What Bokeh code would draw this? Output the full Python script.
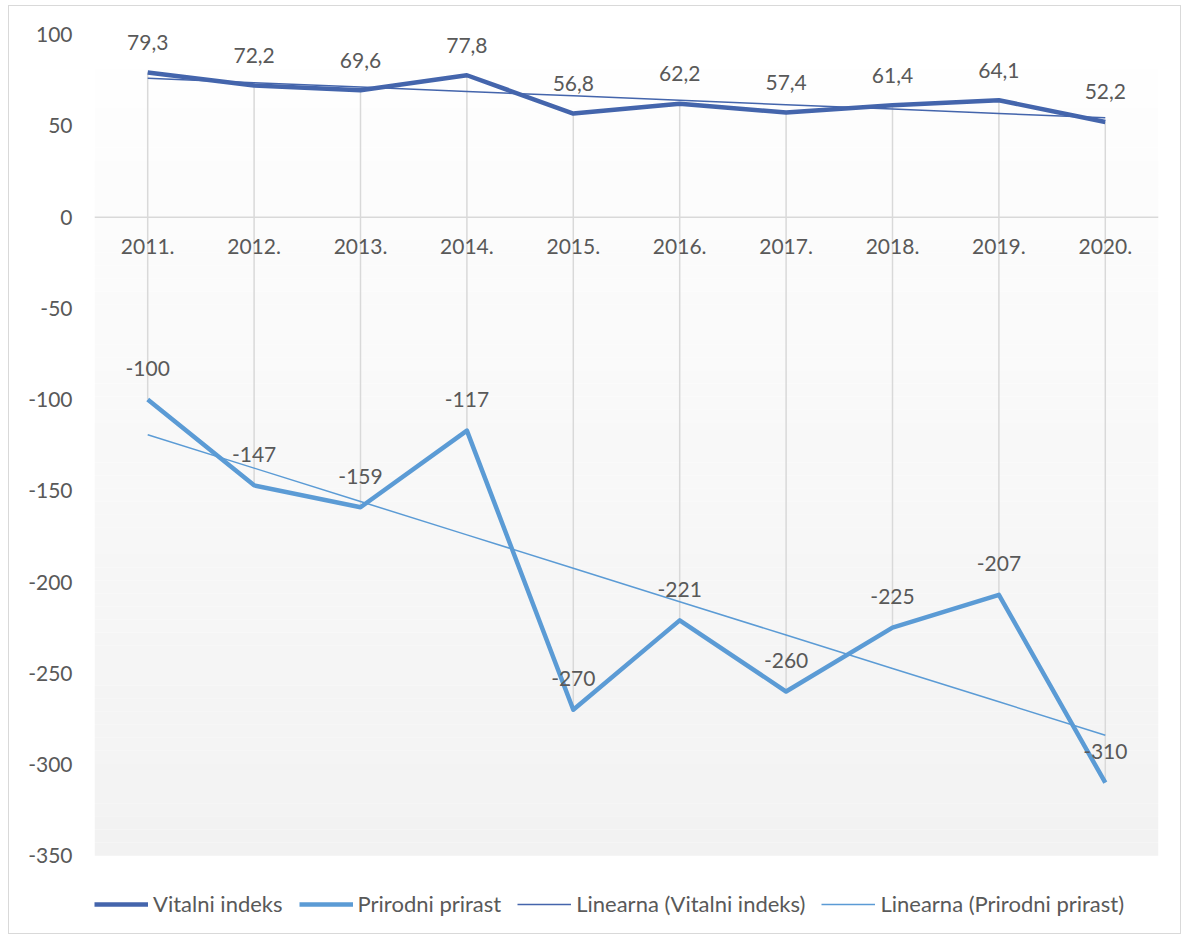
import numpy as np
from bokeh.plotting import figure
from bokeh.models import (ColumnDataSource, Legend, LegendItem, Range1d, FactorRange,
                          BoxAnnotation, Span, FixedTicker)
from bokeh.core.properties import value
from bokeh.embed import file_html
from bokeh.resources import INLINE

years = ["2011.", "2012.", "2013.", "2014.", "2015.", "2016.", "2017.", "2018.", "2019.", "2020."]
vitalni = [79.3, 72.2, 69.6, 77.8, 56.8, 62.2, 57.4, 61.4, 64.1, 52.2]
prirast = [-100, -147, -159, -117, -270, -221, -260, -225, -207, -310]
vitalni_labels = ["79,3", "72,2", "69,6", "77,8", "56,8", "62,2", "57,4", "61,4", "64,1", "52,2"]
prirast_labels = ["-100", "-147", "-159", "-117", "-270", "-221", "-260", "-225", "-207", "-310"]
y_ticks = [100, 50, 0, -50, -100, -150, -200, -250, -300, -350]
y_tick_labels = ["100", "50", "0", "-50", "-100", "-150", "-200", "-250", "-300", "-350"]

# linear trend lines (Excel "Linearna" trendline = least squares fit)
idx = np.arange(1, len(years) + 1)
cv = np.polyfit(idx, vitalni, 1)
cp = np.polyfit(idx, prirast, 1)
trend_v = list(np.polyval(cv, idx))
trend_p = list(np.polyval(cp, idx))

FONT = "Lato"
TXT = "#595959"
DARK = "#4465AC"
LIGHT = "#5B9BD5"

src = ColumnDataSource(dict(x=years, v=vitalni, p=prirast, tv=trend_v, tp=trend_p,
                            vl=vitalni_labels, pl=prirast_labels, zero=[0] * len(years)))

Y_MIN_AXIS = -350
p = figure(frame_width=1064, frame_height=914, x_range=FactorRange(*years), y_range=Range1d(-391, 110),
           output_backend="svg", toolbar_location=None, x_axis_location=None,
           min_border_left=85, min_border_right=22, min_border_top=10, min_border_bottom=3)
p.outline_line_color = None
p.xgrid.grid_line_color = None
p.ygrid.grid_line_color = None
p.background_fill_color = "white"
p.border_fill_color = "white"
p.styles = {"border": "1px solid #d9d9d9", "margin-left": "8px", "margin-top": "5px"}

# gradient plot-area background (decoration)
top_v = 81.4
n = 60
edges = np.linspace(top_v, Y_MIN_AXIS, n + 1)
for i in range(n):
    t = (i + 0.5) / n
    c = int(round(254 - t * (254 - 242)))
    p.add_layout(BoxAnnotation(top=edges[i], bottom=edges[i + 1],
                               fill_color="#%02x%02x%02x" % (c, c, c), fill_alpha=1.0,
                               line_color=None, level="underlay"))

# y axis
ax = p.yaxis[0]
ax.ticker = FixedTicker(ticks=y_ticks)
ax.major_label_overrides = dict(zip(y_ticks, y_tick_labels))
ax.axis_line_color = None
ax.major_tick_line_color = None
ax.minor_tick_line_color = None
ax.major_label_text_font = FONT
ax.major_label_text_font_size = "21px"
ax.major_label_text_color = TXT
ax.major_label_standoff = 16

# horizontal category axis line at zero
p.add_layout(Span(location=0, dimension="width", line_color="#d9d9d9", line_width=1.5))

# high-low lines
p.segment(x0="x", y0="v", x1="x", y1="p", source=src, line_color="#d9d9d9", line_width=1.5)

# category labels
p.text(x="x", y="zero", text="x", source=src, text_font=value(FONT), text_font_size="21px",
       text_color=TXT, text_align="center", text_baseline="middle", y_offset=29)

r1 = p.line("x", "v", source=src, line_color=DARK, line_width=4.5, line_join="round")
r2 = p.line("x", "p", source=src, line_color=LIGHT, line_width=4.5, line_join="round")
r3 = p.line("x", "tv", source=src, line_color=DARK, line_width=1.5)
r4 = p.line("x", "tp", source=src, line_color=LIGHT, line_width=1.5)

p.text(x="x", y="v", text="vl", source=src, text_font=value(FONT), text_font_size="21px",
       text_color=TXT, text_align="center", text_baseline="middle", y_offset=-30)
p.text(x="x", y="p", text="pl", source=src, text_font=value(FONT), text_font_size="21px",
       text_color=TXT, text_align="center", text_baseline="middle", y_offset=-31)

legend = Legend(items=[
    LegendItem(label="Vitalni indeks", renderers=[r1]),
    LegendItem(label="Prirodni prirast", renderers=[r2]),
    LegendItem(label="Linearna (Vitalni indeks)", renderers=[r3]),
    LegendItem(label="Linearna (Prirodni prirast)", renderers=[r4]),
], orientation="horizontal", location=(0, 13))
legend.label_text_font = FONT
legend.label_text_font_size = "22px"
legend.label_text_color = TXT
legend.glyph_width = 54
legend.glyph_height = 20
legend.label_standoff = 5
legend.spacing = 16
legend.padding = 0
legend.margin = 0
legend.border_line_color = None
legend.background_fill_alpha = 0
p.add_layout(legend)

open("out.html", "w").write(file_html(p, INLINE))
